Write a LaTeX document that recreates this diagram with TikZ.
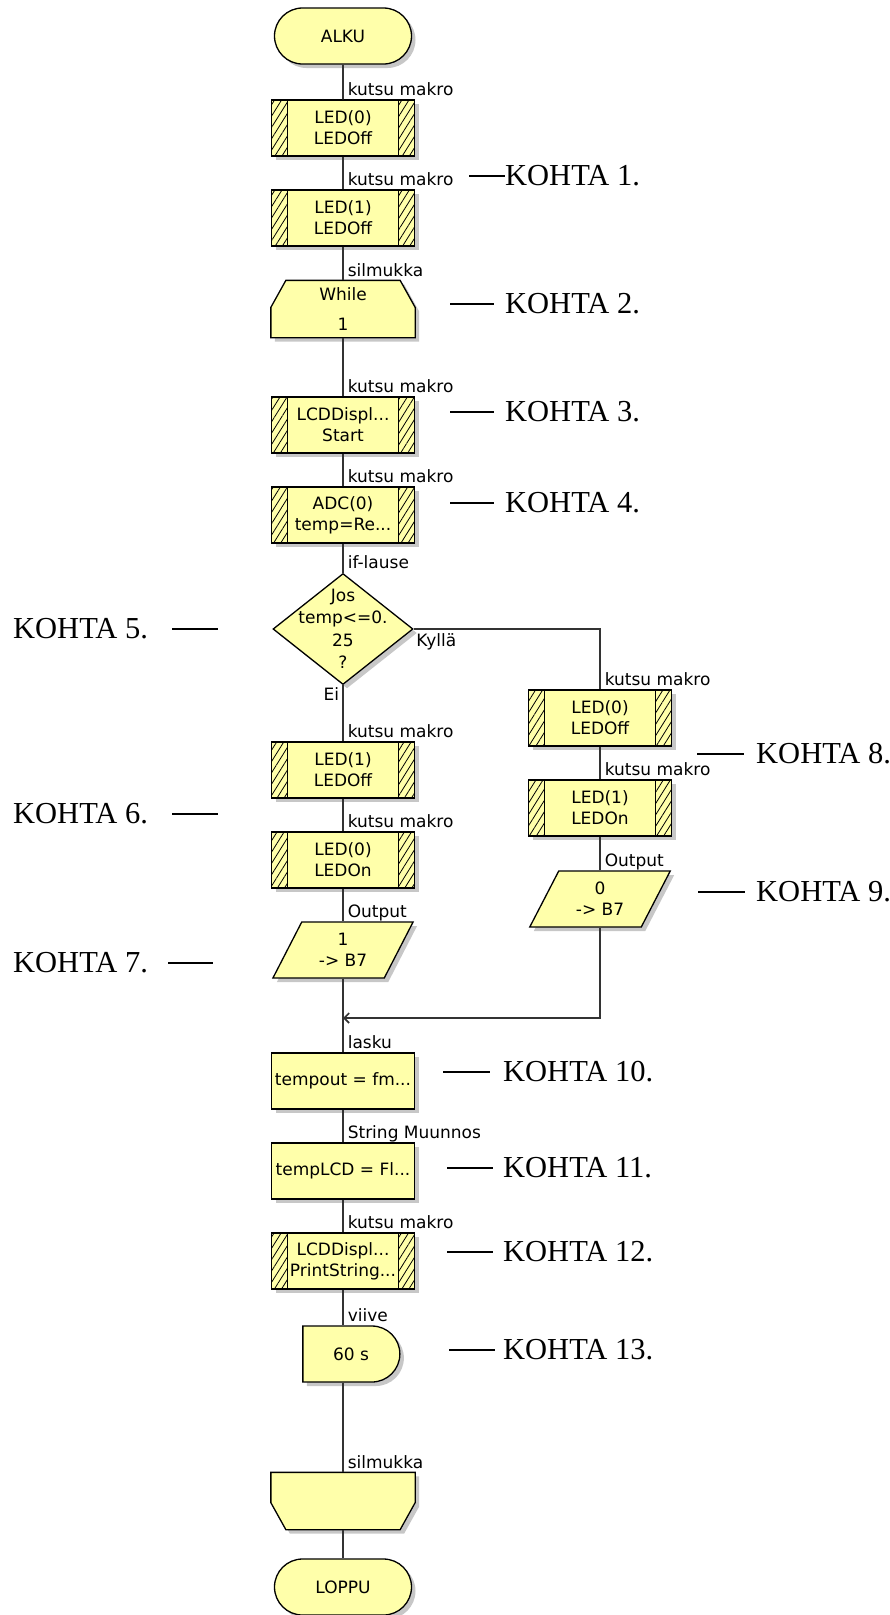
\documentclass[tikz,border=0pt]{standalone}
\usepackage{fontspec}
\setmainfont{Liberation Serif}
\newfontfamily\flowfont{DejaVu Sans}
\usetikzlibrary{shapes.geometric,shapes.misc,shadows,patterns.meta,arrows.meta,backgrounds}
\definecolor{flowyellow}{RGB}{255,255,170}

\tikzset{
  base/.style={line width=1.3pt, minimum width=143pt, minimum height=56pt,
    inner sep=2pt, align=center, font=\flowfont\fontsize{17}{21}\selectfont},
  yellowfill/.style={draw, fill=flowyellow, line width=1.3pt,
    drop shadow={shadow xshift=4pt, shadow yshift=-4pt, fill=black, opacity=.22}},
  box/.style={base, yellowfill},
  macro/.style={box, path picture={
    \draw[line width=1.3pt, pattern={Lines[angle=58,distance=6pt,line width=.8pt]}]
      (path picture bounding box.north west) rectangle ([xshift=16pt]path picture bounding box.south west)
      (path picture bounding box.north east) rectangle ([xshift=-16pt]path picture bounding box.south east);}},
  term/.style={box, rounded rectangle, minimum width=141pt},
  loopbox/.style={base},
  decision/.style={box, diamond, minimum width=140pt, minimum height=111pt, inner sep=0pt},
  io/.style={box, trapezium, trapezium left angle=64, trapezium right angle=116,
    trapezium stretches=true, minimum width=141pt},
  delay/.style={box, rounded rectangle, rounded rectangle west arc=none, minimum width=101pt},
  lbl/.style={font=\flowfont\fontsize{17}{18}\selectfont, inner sep=0pt, text=black},
  tag/.style={lbl, anchor=base west, xshift=4pt, yshift=4pt},
  conn/.style={line width=1.6pt, black!80},
  lead/.style={line width=1.2pt},
  kohta/.style={font=\fontsize{30.5}{31}\selectfont, inner sep=0pt, anchor=west},
}

\begin{document}
\begin{tikzpicture}[x=1pt,y=-1pt,>={Straight Barb[length=5pt,width=10pt]}]
\useasboundingbox (0,0) rectangle (890,1615);

% main column
\node[term] (alku) at (343,36) {ALKU};
\node[macro] (m1) at (343,128) {LED(0)\\LEDOff};
\node[macro] (m2) at (343,218) {LED(1)\\LEDOff};
\node[loopbox] (while) at (343,309) {While\\[9pt]1};
\node[macro] (lcd) at (343,425) {LCDDispl...\\Start};
\node[macro] (adc) at (343,515) {ADC(0)\\temp=Re...};
\node[decision, label={[lbl, align=center, font=\flowfont\fontsize{17}{22.5}\selectfont]center:{Jos\\temp<=0.\\25\\?}}] (ifd) at (343,629) {};

% Ei branch
\node[macro] (m3) at (343,770) {LED(1)\\LEDOff};
\node[macro] (m4) at (343,860) {LED(0)\\LEDOn};
\node[io] (out1) at (343,950) {1\\-> B7};

% Kyllä branch
\node[macro] (m5) at (600,718) {LED(0)\\LEDOff};
\node[macro] (m6) at (600,808) {LED(1)\\LEDOn};
\node[io] (out0) at (600,899) {0\\-> B7};

\coordinate (join) at (343,1018);
\node[box] (calc) at (343,1081) {tempout = fm...};
\node[box] (strc) at (343,1171) {tempLCD = Fl...};
\node[macro] (m7) at (343,1261) {LCDDispl...\\PrintString...};
\node[delay] (wait) at (351,1354) {60 s};
\node[loopbox] (loopend) at (343,1501) {};
\node[term] (loppu) at (343,1587) {LOPPU};

% silmukan muodot
\begin{scope}[on background layer]
\draw[yellowfill] ([xshift=15pt]while.north west) -- ([xshift=-15pt]while.north east)
  -- ([yshift=-27pt]while.north east) -- (while.south east) -- (while.south west)
  -- ([yshift=-27pt]while.north west) -- cycle;
\draw[yellowfill] (loopend.north west) -- (loopend.north east)
  -- ([yshift=27pt]loopend.south east) -- ([xshift=-15pt]loopend.south east)
  -- ([xshift=15pt]loopend.south west) -- ([yshift=27pt]loopend.south west) -- cycle;
\end{scope}

\draw[conn] (alku) -- node[tag, pos=1] {kutsu makro} (m1);
\draw[conn] (m1) -- node[tag, pos=1] {kutsu makro} (m2);
\draw[conn] (m2) -- node[tag, pos=1] {silmukka} (while);
\draw[conn] (while) -- node[tag, pos=1] {kutsu makro} (lcd);
\draw[conn] (lcd) -- node[tag, pos=1] {kutsu makro} (adc);
\draw[conn] (adc) -- node[tag, pos=1] {if-lause} (ifd);
\draw[conn] (ifd.south) -- node[lbl, pos=0, anchor=north east, xshift=-3pt, yshift=-2pt] {Ei}
  node[tag, pos=1] {kutsu makro} (m3);
\draw[conn] (m3) -- node[tag, pos=1] {kutsu makro} (m4);
\draw[conn] (m4) -- node[tag, pos=1] {Output} (out1);
\draw[conn] (ifd.east) -- node[lbl, pos=0, anchor=north west, xshift=2pt, yshift=-4pt] {Kyllä}
  (m5 |- ifd.east) -- node[tag, pos=1] {kutsu makro} (m5);
\draw[conn] (m5) -- node[tag, pos=1] {kutsu makro} (m6);
\draw[conn] (m6) -- node[tag, pos=1] {Output} (out0);
\draw[conn, ->] (out0) |- (join);
\draw[conn] (out1) -- (join) -- node[tag, pos=1] {lasku} (calc);
\draw[conn] (calc) -- node[tag, pos=1] {String Muunnos} (strc);
\draw[conn] (strc) -- node[tag, pos=1] {kutsu makro} (m7);
\draw[conn] (m7) -- node[tag, pos=1] {viive} (m7 |- wait.north);
\draw[conn] (wait.south -| m7) -- node[tag, pos=1] {silmukka} (loopend);
\draw[conn] (loopend) -- (loppu);

% kohdat
\node[kohta] (k1) at (505,176) {KOHTA 1.};
\node[kohta] (k2) at (505,304) {KOHTA 2.};
\node[kohta] (k3) at (505,412) {KOHTA 3.};
\node[kohta] (k4) at (505,503) {KOHTA 4.};
\node[kohta] (k5) at (13,629) {KOHTA 5.};
\node[kohta] (k6) at (13,814) {KOHTA 6.};
\node[kohta] (k7) at (13,963) {KOHTA 7.};
\node[kohta] (k8) at (756,754) {KOHTA 8.};
\node[kohta] (k9) at (756,892) {KOHTA 9.};
\node[kohta] (k10) at (503,1072) {KOHTA 10.};
\node[kohta] (k11) at (503,1168) {KOHTA 11.};
\node[kohta] (k12) at (503,1252) {KOHTA 12.};
\node[kohta] (k13) at (503,1350) {KOHTA 13.};

\coordinate (k1s) at (469,176);
\coordinate (k2s) at (450,304);
\coordinate (k3s) at (450,412);
\coordinate (k4s) at (450,503);
\coordinate (k5e) at (218,629);
\coordinate (k6e) at (218,814);
\coordinate (k7e) at (213,963);
\coordinate (k8s) at (697,754);
\coordinate (k9s) at (698,892);
\coordinate (k10s) at (443,1072);
\coordinate (k11s) at (447,1168);
\coordinate (k12s) at (447,1252);
\coordinate (k13s) at (449,1350);

\draw[lead] (k1s) -- (k1);
\draw[lead, shorten >=11pt] (k2s) -- (k2);
\draw[lead, shorten >=11pt] (k3s) -- (k3);
\draw[lead, shorten >=11pt] (k4s) -- (k4);
\draw[lead, shorten <=24pt] (k5) -- (k5e);
\draw[lead, shorten <=24pt] (k6) -- (k6e);
\draw[lead, shorten <=20pt] (k7) -- (k7e);
\draw[lead, shorten >=12pt] (k8s) -- (k8);
\draw[lead, shorten >=11pt] (k9s) -- (k9);
\draw[lead, shorten >=13pt] (k10s) -- (k10);
\draw[lead, shorten >=10pt] (k11s) -- (k11);
\draw[lead, shorten >=10pt] (k12s) -- (k12);
\draw[lead, shorten >=8pt] (k13s) -- (k13);
\end{tikzpicture}
\end{document}
